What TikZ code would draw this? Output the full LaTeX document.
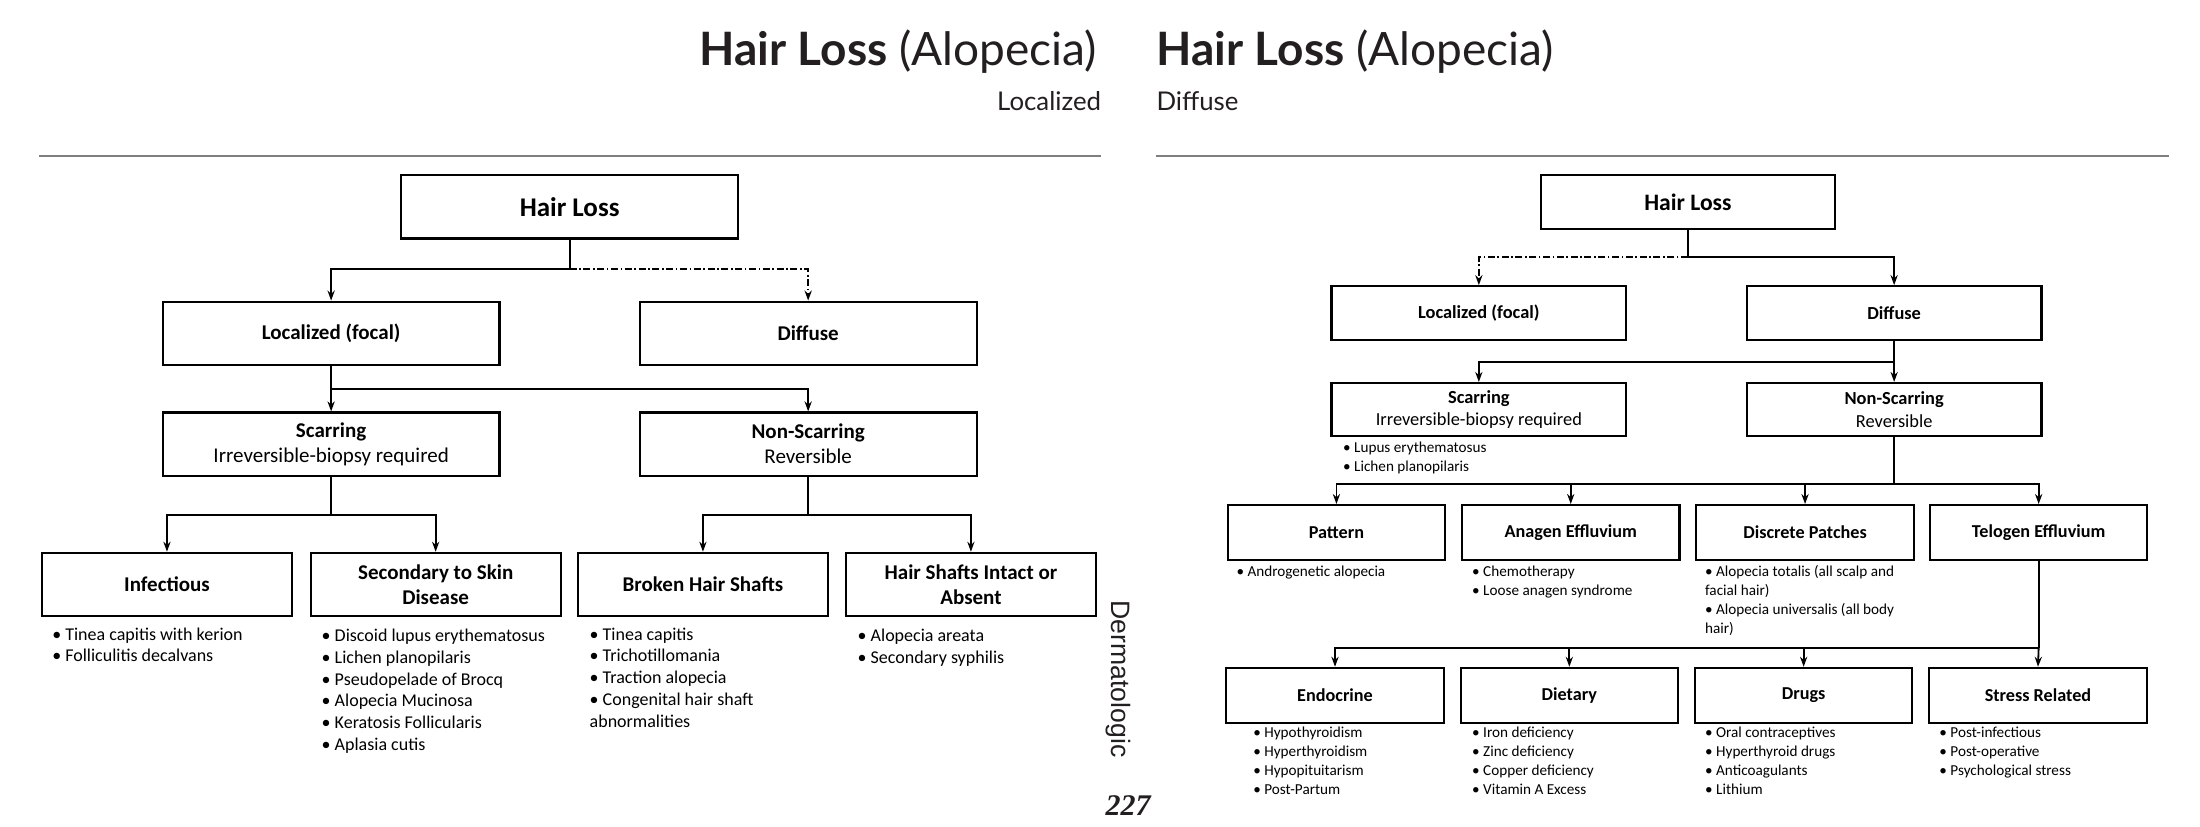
\documentclass[tikz,border=0pt]{standalone}
\usepackage{fontspec}
\setmainfont{Carlito}
\newfontfamily\titlefont{Lato}
\newfontfamily\numfont{Liberation Serif}
\newfontfamily\dermfont{Liberation Sans}
\usetikzlibrary{arrows.meta}
\definecolor{ink}{HTML}{231F20}
\definecolor{rule}{HTML}{7F7F7F}
\begin{document}
\begin{tikzpicture}[x=0.7015pt,y=-0.7015pt,
  box/.style={draw, line width=1.05pt, align=center, inner sep=1pt},
  ltop/.style={box, minimum width=168.4pt, minimum height=31.6pt, font=\fontsize{13.5}{16}\selectfont\bfseries},
  lmid/.style={box, minimum width=168.4pt, minimum height=31.6pt, font=\fontsize{10.5}{12.6}\selectfont},
  lbot/.style={box, minimum width=124.9pt, minimum height=31.6pt, font=\fontsize{10.5}{12.6}\selectfont\bfseries},
  rtop/.style={box, minimum width=147.3pt, minimum height=26.7pt, font=\fontsize{11.8}{14}\selectfont\bfseries},
  rmid/.style={box, minimum width=147.3pt, minimum height=26.7pt, font=\fontsize{9.2}{11.2}\selectfont},
  rrow/.style={box, minimum width=108.7pt, minimum height=27.4pt, font=\fontsize{9.1}{11}\selectfont\bfseries},
  lbul/.style={anchor=north west, align=left, inner sep=0pt, font=\fontsize{9}{10.9}\selectfont},
  rbul/.style={anchor=north west, align=left, inner sep=0pt, font=\fontsize{7.6}{9.5}\selectfont},
  conn/.style={line width=0.9pt},
  arr/.style={conn, -{Stealth[length=5pt,width=3.6pt]}},
  dd/.style={arr, dash pattern=on 3.5pt off 1.3pt on 0.8pt off 1.3pt}
]
\useasboundingbox (0,0) rectangle (1568,589);
\fill[white] (0,0) rectangle (1568,589);

% headers
\node[anchor=base east, inner sep=0, text=ink, font=\titlefont\fontsize{23}{26}\selectfont] (tl) at (782,47) {\bfseries Hair Loss\mdseries\ (Alopecia)};
\node[anchor=base west, inner sep=0, text=ink, font=\titlefont\fontsize{23}{26}\selectfont] (tr) at (824,47) {\bfseries Hair Loss\mdseries\ (Alopecia)};
\node[anchor=base east, inner sep=0, text=ink, font=\titlefont\fontsize{12.9}{15}\selectfont] (sl) at (785,79) {Localized};
\node[anchor=base west, inner sep=0, text=ink, font=\titlefont\fontsize{12.9}{15}\selectfont] (sr) at (824,79) {Diffuse};
\draw[rule, line width=1pt] (28,111) -- (785,111);
\draw[rule, line width=1pt] (824,111) -- (1546,111);
\node[rotate=-90, inner sep=0, text=ink, font=\dermfont\fontsize{13.3}{15}\selectfont] (derm) at (797,484) {Dermatologic};
\node[inner sep=0, text=ink, font=\numfont\bfseries\itshape\fontsize{15}{17}\selectfont] (pg) at (804,574) {227};

% ---------- left diagram ----------
\node[ltop] (LHair) at (406,147.5) {Hair Loss};
\node[lmid, font=\fontsize{10.5}{12.6}\selectfont\bfseries] (LLoc) at (236,237.5) {Localized (focal)};
\node[lmid, font=\fontsize{10.5}{12.6}\selectfont\bfseries] (LDif) at (576,237.5) {Diffuse};
\node[lmid] (LScar) at (236,316.5) {\textbf{Scarring}\\Irreversible-biopsy required};
\node[lmid] (LNon) at (576,316.5) {\textbf{Non-Scarring}\\Reversible};
\node[lbot] (LInf) at (119,416.5) {Infectious};
\node[lbot] (LSec) at (310.5,416.5) {Secondary to Skin\\Disease};
\node[lbot] (LBro) at (501,416.5) {Broken Hair Shafts};
\node[lbot] (LInt) at (692,416.5) {Hair Shafts Intact or\\Absent};

\coordinate (lj1) at (406,192);
\coordinate (lj2) at (236,277);
\coordinate (lj3) at (236,367);
\coordinate (lj4) at (576,367);
\draw[conn] (LHair.south) -- (lj1);
\draw[arr] (lj1) -| (LLoc.north);
\draw[dd] (lj1) -| (LDif.north);
\draw[arr] (LLoc.south) -- (LScar.north);
\draw[arr] (lj2) -| (LNon.north);
\draw[conn] (LScar.south) -- (lj3);
\draw[arr] (lj3) -| (LInf.north);
\draw[arr] (lj3) -| (LSec.north);
\draw[conn] (LNon.south) -- (lj4);
\draw[arr] (lj4) -| (LBro.north);
\draw[arr] (lj4) -| (LInt.north);

\node[lbul] (bInf) at (37,447) {• Tinea capitis with kerion\\• Folliculitis decalvans};
\node[lbul] (bSec) at (229,448) {• Discoid lupus erythematosus\\• Lichen planopilaris\\• Pseudopelade of Brocq\\• Alopecia Mucinosa\\• Keratosis Follicularis\\• Aplasia cutis};
\node[lbul] (bBro) at (420,447) {• Tinea capitis\\• Trichotillomania\\• Traction alopecia\\• Congenital hair shaft\\abnormalities};
\node[lbul] (bInt) at (611,448) {• Alopecia areata\\• Secondary syphilis};

% ---------- right diagram ----------
\node[rtop] (RHair) at (1203,144) {Hair Loss};
\node[rmid, font=\fontsize{9.2}{11.2}\selectfont\bfseries] (RLoc) at (1054,223) {Localized (focal)};
\node[rmid, font=\fontsize{9.2}{11.2}\selectfont\bfseries] (RDif) at (1350,223) {Diffuse};
\node[rmid] (RScar) at (1054,292) {\textbf{Scarring}\\Irreversible-biopsy required};
\node[rmid] (RNon) at (1350,292) {\textbf{Non-Scarring}\\Reversible};
\node[rrow] (RPat) at (952.5,379.5) {Pattern};
\node[rrow] (RAna) at (1119.5,379.5) {Anagen Effluvium};
\node[rrow] (RDis) at (1286.5,379.5) {Discrete Patches};
\node[rrow] (RTel) at (1453,379.5) {Telogen Effluvium};
\node[rrow] (REnd) at (951.5,495.5) {Endocrine};
\node[rrow] (RDie) at (1118.5,495.5) {Dietary};
\node[rrow] (RDru) at (1285.5,495.5) {Drugs};
\node[rrow] (RStr) at (1452.5,495.5) {Stress Related};

\coordinate (rj1) at (1203,183);
\coordinate (rj2) at (1350,258);
\coordinate (rj3) at (1350,345);
\coordinate (rj4) at (1453,462);
\draw[conn] (RHair.south) -- (rj1);
\draw[dd] (rj1) -| (RLoc.north);
\draw[arr] (rj1) -| (RDif.north);
\draw[arr] (RDif.south) -- (RNon.north);
\draw[arr] (rj2) -| (RScar.north);
\draw[conn] (RNon.south) -- (rj3);
\draw[arr] (rj3) -| (RPat.north);
\draw[arr] (rj3) -| (RAna.north);
\draw[arr] (rj3) -| (RDis.north);
\draw[arr] (rj3) -| (RTel.north);
\draw[conn] (RTel.south) -- (rj4);
\draw[arr] (rj4) -| (REnd.north);
\draw[arr] (rj4) -| (RDie.north);
\draw[arr] (rj4) -| (RDru.north);
\draw[arr] (rj4) -- (RStr.north);

\node[rbul] (bScar) at (957,315) {• Lupus erythematosus\\• Lichen planopilaris};
\node[rbul] (bPat) at (881,403) {• Androgenetic alopecia};
\node[rbul] (bAna) at (1049,403) {• Chemotherapy\\• Loose anagen syndrome};
\node[rbul] (bDis) at (1215,403) {• Alopecia totalis (all scalp and\\facial hair)\\• Alopecia universalis (all body\\hair)};
\node[rbul] (bEnd) at (893,518) {• Hypothyroidism\\• Hyperthyroidism\\• Hypopituitarism\\• Post-Partum};
\node[rbul] (bDie) at (1049,518) {• Iron deficiency\\• Zinc deficiency\\• Copper deficiency\\• Vitamin A Excess};
\node[rbul] (bDru) at (1215,518) {• Oral contraceptives\\• Hyperthyroid drugs\\• Anticoagulants\\• Lithium};
\node[rbul] (bStr) at (1382,518) {• Post-infectious\\• Post-operative\\• Psychological stress};
\end{tikzpicture}
\end{document}
